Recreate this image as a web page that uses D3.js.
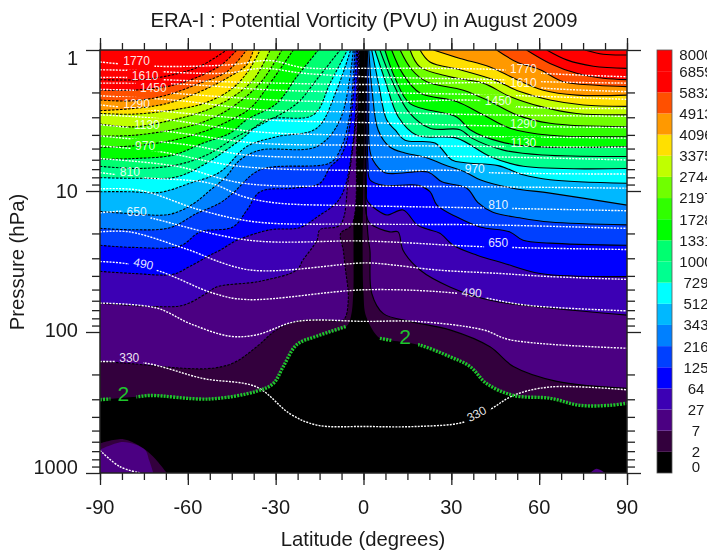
<!DOCTYPE html>
<html>
<head>
<meta charset="utf-8">
<script src="https://cdn.jsdelivr.net/npm/d3@7"></script>
<style>
  html, body { margin: 0; padding: 0; background: #fff; overflow: hidden; }
  svg { display: block; filter: blur(0.5px); font-family: "Liberation Sans", Arial, sans-serif; }
</style>
</head>
<body>
<svg id="chart" width="707" height="552"></svg>
<script>
// colour bar levels, bottom to top, and the colour of the band above each one
const levels = [0, 2, 7, 27, 64, 125, 216, 343, 512, 729, 1000, 1331, 1728, 2197, 2744, 3375, 4096, 4913, 5832, 6859, 8000];
const bandColors = ["#000000", "#33003d", "#4b0082", "#3c00b4", "#0000ff", "#0040ff", "#0080ff", "#00b8ff", "#00ffff", "#00ff90",
                    "#00ff70", "#00ff00", "#30ff00", "#70ff00", "#c0ff00", "#ffe000", "#ff9900", "#ff5000", "#ff0000", "#ff0000"];

const latTicks = [-90, -60, -30, 0, 30, 60, 90];
const pressureTicks = [1, 10, 100, 1000];

// PV contours as [latitude, log10(pressure in hPa)]
// southern hemisphere runs from the -90 edge up to the top of the plot
const south2 = [[-90,2.48],[-77.5,2.46],[-72.9,2.45],[-52.4,2.475],[-36.5,2.42],[-30.8,2.365],[-27.4,2.245],[-22.8,2.09],[-16,2.03],[-5.8,1.96],[-4.3,1.89],[-3.5,1.725],[-3.4,1.42],[-3.4,.875],[-2,.3],[-1.5,0]];
const south7 = [[-90,2.21],[-82,2.22],[-53.6,2.26],[-44.5,2.22],[-36.5,2.105],[-29.7,1.985],[-22.8,1.925],[-13.7,1.915],[-6.9,1.915],[-5.2,1.77],[-6.3,1.535],[-6.9,1.42],[-7.8,1.30],[-4,1.24],[-2.3,.64],[-1.3,0]];
const south27 = [[-90,1.795],[-70.6,1.82],[-61.5,1.81],[-53.6,1.725],[-50.1,1.68],[-35.3,1.64],[-22.8,1.56],[-20.7,1.49],[-15.9,1.35],[-14.9,1.275],[-8,1.24],[-5.2,.92],[-2.7,.52],[-1.6,0]];
const south64 = [[-90,1.57],[-78.6,1.585],[-65,1.59],[-59.3,1.535],[-52.4,1.455],[-49,1.42],[-43.2,1.35],[-31.9,1.275],[-21.7,1.26],[-15.9,1.185],[-8,1.05],[-3.5,.64],[-2,0]];
const south125 = [[-90,1.385],[-78.6,1.40],[-62.7,1.39],[-55.8,1.29],[-44.6,1.255],[-39.8,1.135],[-35.3,1.005],[-24.1,.98],[-14.9,.945],[-11.4,.83],[-8,.76],[-5.2,.6],[-2.3,0]];
const south216 = [[-90,1.265],[-78.6,1.275],[-66.1,1.26],[-57,1.16],[-49,1.085],[-44.6,1.015],[-35.3,.85],[-11.4,.80],[-8,.71],[-5,.5],[-2.9,0]];
const south343 = [[-90,1.145],[-79.7,1.16],[-66.1,1.165],[-58.1,1.09],[-52.4,.995],[-47,.9],[-42.2,.78],[-35.3,.71],[-16,.685],[-8,.495],[-3.5,0]];
const south512 = [[-90,1.005],[-79.7,1.005],[-69.5,1.01],[-59.3,.945],[-49,.865],[-39.9,.685],[-29.7,.615],[-16,.555],[-9.2,.285],[-4.4,0]];
const south729 = [[-90,.905],[-76.3,.91],[-63.8,.90],[-54.7,.815],[-42.2,.64],[-33.1,.495],[-17.1,.46],[-11.4,.235],[-5.5,0]];
const south1000 = [[-90,.825],[-76.3,.84],[-63.8,.815],[-53.6,.745],[-43.3,.615],[-34.2,.52],[-22.8,.38],[-16,.21],[-8,0]];
const south1331 = [[-90,.775],[-78.6,.77],[-65,.745],[-54.7,.66],[-45.6,.59],[-39.9,.495],[-29.7,.38],[-22.8,.19],[-15.4,0]];
const south1728 = [[-90,.69],[-78.6,.68],[-65,.64],[-54.7,.58],[-46.7,.51],[-38.8,.415],[-31.9,.235],[-24,0]];
const south2197 = [[-90,.61],[-78.6,.605],[-65,.565],[-54.7,.51],[-45.6,.415],[-35.3,.235],[-27.9,0]];
const south2744 = [[-90,.525],[-78.6,.545],[-65,.495],[-54.7,.435],[-45.6,.345],[-37.6,.21],[-31.9,0]];
const south3375 = [[-90,.45],[-78.6,.455],[-65,.425],[-54.7,.38],[-45.6,.285],[-39.9,.165],[-35.3,0]];
const south4096 = [[-90,.43],[-78.6,.415],[-67.2,.38],[-55.8,.295],[-46.7,.2],[-39.9,.105],[-37.6,0]];
const south4913 = [[-90,.355],[-78.6,.36],[-67.2,.32],[-55.8,.235],[-46.7,.155],[-39.9,0]];
const south5832 = [[-90,.285],[-78.6,.285],[-65,.25],[-54.7,.175],[-47.9,.095],[-43.3,0]];
const south6859 = [[-90,.21],[-76.3,.21],[-65,.175],[-55.8,.115],[-46.7,0]];

// northern hemisphere runs from the top of the plot out to the +90 edge
const north2 = [[.2,0],[.2,.64],[-.3,1.42],[0,1.725],[.9,1.89],[5.6,2.045],[9.6,2.06],[18.7,2.09],[29.5,2.175],[36.4,2.245],[42,2.365],[51.2,2.45],[63.7,2.47],[73.9,2.52],[84.2,2.52],[90,2.505]];
const north7 = [[.4,0],[.5,.64],[.9,1.11],[1.7,1.35],[2.2,1.42],[2.8,1.725],[6.8,1.87],[15.9,1.925],[29.5,1.985],[43.2,2.105],[51.2,2.245],[66,2.35],[90,2.40]];
const north27 = [[.6,0],[.7,.64],[.9,1.16],[2.2,1.23],[9,1.29],[11.8,1.29],[13.5,1.42],[19.3,1.56],[29.5,1.68],[43.2,1.775],[63.7,1.83],[90,1.88]];
const north64 = [[.7,0],[.9,.64],[1,1.0],[1.2,1.065],[4.6,1.135],[8,1.17],[13.5,1.135],[18.3,1.24],[21.7,1.27],[26.1,1.30],[30.6,1.385],[38.8,1.455],[47.6,1.51],[60.3,1.585],[90,1.607]];
const north125 = [[1,0],[1.2,.40],[1.5,.80],[2.2,.92],[6.7,.96],[18.6,.96],[22.7,1.005],[25.1,1.10],[31.9,1.185],[39.8,1.255],[50,1.29],[54.5,1.35],[63.7,1.37],[90,1.385]];
const north216 = [[1.3,0],[1.8,.3],[2,.69],[3.2,.78],[7.3,.87],[22,.865],[26.8,.935],[35.3,.98],[39,1.08],[44.2,1.15],[53.4,1.19],[63.7,1.22],[90,1.24]];
const north343 = [[1.8,0],[3,.3],[5,.567],[9,.688],[14.2,.73],[21,.76],[27.8,.815],[34.7,.865],[39.8,.92],[51,.98],[63.7,1.015],[90,1.10]];
const north512 = [[2.8,0],[5.1,.235],[7.9,.495],[10.8,.567],[14.2,.64],[24.4,.66],[30.2,.78],[34.7,.80],[46,.82],[54.5,.885],[63.7,.92],[90,.945]];
const north729 = [[3.9,0],[7.3,.21],[11.9,.475],[18.2,.605],[31.8,.625],[43.2,.755],[54.6,.825],[90,.84]];
const north1000 = [[5.6,0],[9.6,.21],[15.3,.435],[22.7,.555],[33,.565],[37,.625],[47.8,.71],[61.4,.745],[90,.755]];
const north1331 = [[7.3,0],[10.8,.20],[15.9,.38],[31.8,.475],[36.4,.565],[46.6,.65],[58,.685],[90,.685]];
const north1728 = [[9.6,0],[13.6,.175],[19.3,.305],[31.8,.365],[40.9,.46],[50,.555],[63.7,.605],[90,.615]];
const north2197 = [[12.5,0],[16.5,.14],[21.6,.225],[34.1,.285],[43.2,.365],[52.3,.46],[63.7,.52],[90,.545]];
const north2744 = [[15.9,0],[19.3,.12],[29.5,.19],[40.9,.235],[50,.33],[60.3,.40],[72.8,.45],[90,.46]];
const north3375 = [[19.3,0],[22.7,.085],[33,.14],[44.3,.21],[53.4,.295],[63.7,.355],[75.1,.39],[90,.40]];
const north4096 = [[23.9,0],[33,.06],[43.2,.12],[52.3,.21],[61.4,.285],[72.8,.32],[90,.32]];
const north4913 = [[45.5,0],[52.3,.085],[60.3,.14],[68.2,.225],[79.6,.25],[90,.26]];
const north5832 = [[55.7,0],[63.7,.095],[72.8,.165],[81.9,.20],[90,.21]];
const north6859 = [[62.6,0],[69.4,.07],[78.5,.115],[90,.13]];
const north8000 = [[75.6,0],[81.9,.03],[90,.035]];

// closed pockets at the ground
const islandSouth2 = [[-90,2.79],[-82,2.76],[-76.3,2.81],[-71.8,2.885],[-67.2,3]];
const islandSouth7 = [[-90,2.835],[-82,2.78],[-74.7,2.835],[-73.2,2.91],[-71.8,3]];
const islandNorth7 = [[77.4,3],[79.6,2.97],[82.5,3]];

// isentropes (potential temperature, K)
const theta250 = [[-90,2.84],[-83.2,2.955],[-76.3,3]];
const theta330 = [[-90,2.21],[-74.7,2.22],[-54.7,2.33],[-36.5,2.39],[-25.1,2.58],[-16,2.66],[1,2.67],[18.2,2.67],[34.1,2.64],[43.2,2.55],[51.2,2.45],[63.7,2.39],[90,2.41]];
const theta410 = [[-90,1.795],[-70.6,1.83],[-59.3,1.94],[-45.6,2.03],[-36.5,2.02],[-22.8,1.925],[1,1.925],[18.2,1.925],[40.9,1.985],[50,2.055],[90,2.115]];
const theta490 = [[-90,1.50],[-81,1.515],[-69.5,1.57],[-51.3,1.725],[-39.9,1.77],[1,1.70],[31.8,1.725],[42,1.76],[55.7,1.81],[90,1.85]];
const theta570 = [[-90,1.29],[-79.8,1.29],[-61.5,1.405],[-59.3,1.42],[-38.8,1.56],[1,1.51],[10.2,1.525],[25,1.56],[46.6,1.585],[63.7,1.607],[90,1.627]];
const theta650 = [[-90,1.155],[-80.9,1.145],[-71.8,1.195],[-38.8,1.35],[1,1.355],[40.9,1.395],[90,1.415]];
const theta730 = [[-90,.985],[-76.3,.995],[-55.8,1.135],[-36.5,1.22],[1,1.235],[40.9,1.24],[90,1.265]];
const theta810 = [[-90,.87],[-75.2,.905],[-52.4,.945],[-41,1.04],[-29.7,1.085],[1,1.105],[40.9,1.12],[90,1.14]];
const theta890 = [[-90,.77],[-63.8,.825],[-41,.945],[1,.965],[40.9,.97],[90,.98]];
const theta970 = [[-90,.68],[-70,.72],[-42.2,.825],[1,.855],[33,.855],[43.2,.87],[90,.88]];
const theta1050 = [[-90,.61],[-59.3,.675],[-39.9,.745],[1,.76],[34.1,.755],[90,.78]];
const theta1130 = [[-90,.53],[-66.1,.58],[-36.5,.66],[1,.675],[48.9,.685],[90,.69]];
const theta1210 = [[-90,.46],[-70.6,.485],[-36.5,.58],[1,.605],[47.8,.615],[90,.625]];
const theta1290 = [[-90,.39],[-72.9,.425],[-34.2,.495],[1,.515],[47.8,.54],[90,.55]];
const theta1370 = [[-90,.325],[-65,.355],[-34.2,.425],[1,.44],[43.2,.46],[90,.47]];
const theta1450 = [[-90,.28],[-78.6,.285],[-66.1,.305],[-29.7,.355],[1,.37],[40.9,.36],[51.2,.40],[90,.415]];
const theta1530 = [[-90,.235],[-65,.24],[-29.7,.285],[1,.30],[46.6,.32],[90,.35]];
const theta1610 = [[-90,.195],[-80.9,.195],[-68.9,.21],[-29.7,.235],[1,.245],[47.8,.235],[61.4,.27],[90,.295]];
const theta1690 = [[-90,.14],[-78.6,.145],[-47.9,.165],[-34.2,.13],[-20.5,.165],[1,.19],[45.5,.21],[61.4,.225],[90,.235]];
const theta1770 = [[-90,.085],[-71.8,.115],[-45.6,.105],[-31.9,.075],[-20.5,.125],[1,.13],[23.9,.13],[46.6,.14],[60.8,.165],[90,.19]];

// contour labels: text, latitude, log10(pressure), tilt
const thetaLabels = [
  ["1770",-77.5,.075,0],["1610",-74.6,.185,0],["1450",-71.8,.27,0],["1290",-77.5,.38,0],["1130",-74,.53,0],
  ["970",-74.6,.675,0],["810",-79.8,.86,0],["650",-77.5,1.145,0],["490",-75.2,1.515,12],["330",-80,2.18,0],
  ["1770",54.6,.135,0],["1610",54.6,.235,0],["1450",46,.36,0],["1290",54.6,.52,0],["1130",54.6,.66,0],
  ["970",38,.84,0],["810",46,1.10,0],["650",46,1.37,0],["490",37,1.72,4],["330",38.6,2.58,-28]];
const pvLabels = [["2",-82,2.435,0],["2",14.2,2.03,0]];

// the green 2 PVU line is only drawn below the tropopause
const green2South = south2.slice(0, 10);
const green2North = north2.slice(5);

const southContours = [south2, south7, south27, south64, south125, south216, south343, south512, south729, south1000, south1331, south1728, south2197, south2744, south3375, south4096, south4913, south5832, south6859];
const northContours = [north2, north7, north27, north64, north125, north216, north343, north512, north729, north1000, north1331, north1728, north2197, north2744, north3375, north4096, north4913, north5832, north6859, north8000];
const thetaLines = [theta250, theta330, theta410, theta490, theta570, theta650, theta730, theta810, theta890, theta970, theta1050, theta1130, theta1210, theta1290, theta1370, theta1450, theta1530, theta1610, theta1690, theta1770];

const svg = d3.select("#chart");
const x = d3.scaleLinear().domain([-90, 90]).range([100, 627]);
const y = d3.scaleLog().domain([1, 1000]).range([50, 473]);
const py = logP => y(Math.pow(10, logP));

const line = d3.line()
  .x(d => x(d[0]))
  .y(d => py(d[1]))
  .curve(d3.curveCatmullRom.alpha(0.5));

const defs = svg.append("defs");
defs.append("clipPath").attr("id", "plotClip").append("rect")
  .attr("x", x(-90)).attr("y", y(1)).attr("width", x(90) - x(-90)).attr("height", y(1000) - y(1));

const plot = svg.append("g").attr("clip-path", "url(#plotClip)");
plot.append("rect")
  .attr("x", x(-90)).attr("y", y(1)).attr("width", x(90) - x(-90)).attr("height", y(1000) - y(1))
  .attr("fill", bandColors[0]);

// painter's order: each level's polygon covers everything above its contour
const fillSouth = (pts, color) => plot.append("path")
  .attr("d", line(pts) + "L" + x(-90) + "," + y(1) + "Z").attr("fill", color);
const fillNorth = (pts, color) => plot.append("path")
  .attr("d", line(pts) + "L" + x(90) + "," + y(1) + "Z").attr("fill", color);

southContours.forEach((pts, i) => fillSouth(pts, bandColors[i + 1]));
northContours.forEach((pts, i) => fillNorth(pts, bandColors[Math.min(i + 1, bandColors.length - 1)]));

plot.append("path").attr("d", line(islandSouth2) + "L" + x(-90) + "," + y(1000) + "Z").attr("fill", bandColors[1]);
plot.append("path").attr("d", line(islandSouth7) + "L" + x(-90) + "," + y(1000) + "Z").attr("fill", bandColors[2]);
plot.append("path").attr("d", line(islandNorth7) + "Z").attr("fill", bandColors[2]);

// negative PV is dashed in the south
plot.selectAll("path.south").data(southContours.slice(1)).enter().append("path")
  .attr("class", "south").attr("d", line)
  .attr("fill", "none").attr("stroke", "#000").attr("stroke-width", 1.1).attr("stroke-dasharray", "2.6,1.4");
plot.selectAll("path.north").data(northContours.slice(1)).enter().append("path")
  .attr("class", "north").attr("d", line)
  .attr("fill", "none").attr("stroke", "#000").attr("stroke-width", 1.1);

// labels punch holes in their lines through a mask
const mask = defs.append("mask").attr("id", "labelGaps").attr("maskUnits", "userSpaceOnUse")
  .attr("x", 0).attr("y", 0).attr("width", 707).attr("height", 552);
mask.append("rect").attr("width", 707).attr("height", 552).attr("fill", "#fff");
const gap = (d, w, h) => mask.append("rect")
  .attr("x", -w / 2).attr("y", -h / 2).attr("width", w).attr("height", h).attr("fill", "#000")
  .attr("transform", "translate(" + x(d[1]) + "," + py(d[2]) + ") rotate(" + d[3] + ")");
thetaLabels.forEach(d => gap(d, d[0].length * 7.4 + 6, 13));
pvLabels.forEach(d => gap(d, 26, 22));

const masked = plot.append("g").attr("mask", "url(#labelGaps)");
masked.selectAll("path.theta").data(thetaLines).enter().append("path")
  .attr("class", "theta").attr("d", line)
  .attr("fill", "none").attr("stroke", "#fff").attr("stroke-width", 1.4).attr("stroke-dasharray", "2,1.2");
masked.selectAll("path.green").data([green2South, green2North]).enter().append("path")
  .attr("class", "green").attr("d", line)
  .attr("fill", "none").attr("stroke", "#1fc52d").attr("stroke-width", 3.4).attr("stroke-dasharray", "2,1.2");

const labelG = svg.append("g");
labelG.selectAll("text.theta").data(thetaLabels).enter().append("text")
  .attr("class", "theta")
  .attr("transform", d => "translate(" + x(d[1]) + "," + py(d[2]) + ") rotate(" + d[3] + ")")
  .attr("text-anchor", "middle").attr("dy", "0.36em")
  .attr("fill", "#fff").attr("fill-opacity", 0.9).attr("font-size", 12).text(d => d[0]);
labelG.selectAll("text.pv").data(pvLabels).enter().append("text")
  .attr("class", "pv")
  .attr("transform", d => "translate(" + x(d[1]) + "," + py(d[2]) + ")")
  .attr("text-anchor", "middle").attr("dy", "0.36em")
  .attr("fill", "#1fc52d").attr("font-size", 21).text(d => d[0]);

// axes
const latMinor = d3.range(-90, 90.1, 7.5);
const pressureMinor = [];
pressureTicks.slice(0, 3).forEach(p => d3.range(2, 10).forEach(m => pressureMinor.push(p * m)));

const styleAxis = g => {
  g.select(".domain").remove();
  g.selectAll("line").attr("stroke", "#222").attr("stroke-width", 1.3);
  g.selectAll("text").remove();
};
const hAxis = (make, yPos) => {
  svg.append("g").attr("transform", "translate(0," + yPos + ")")
    .call(make(x).tickValues(latMinor).tickSize(7)).call(styleAxis);
  svg.append("g").attr("transform", "translate(0," + yPos + ")")
    .call(make(x).tickValues(latTicks).tickSize(12)).call(styleAxis);
};
const vAxis = (make, xPos) => {
  svg.append("g").attr("transform", "translate(" + xPos + ",0)")
    .call(make(y).tickValues(pressureMinor).tickSize(8)).call(styleAxis);
  svg.append("g").attr("transform", "translate(" + xPos + ",0)")
    .call(make(y).tickValues(pressureTicks).tickSize(14)).call(styleAxis);
};
hAxis(d3.axisTop, y(1));
hAxis(d3.axisBottom, y(1000));
vAxis(d3.axisLeft, x(-90));
vAxis(d3.axisRight, x(90));

svg.append("rect")
  .attr("x", x(-90)).attr("y", y(1)).attr("width", x(90) - x(-90)).attr("height", y(1000) - y(1))
  .attr("fill", "none").attr("stroke", "#222").attr("stroke-width", 1.5);

const textColor = "#1a1a1a";
svg.selectAll("text.lat").data(latTicks).enter().append("text")
  .attr("class", "lat").attr("x", d => x(d)).attr("y", 514)
  .attr("text-anchor", "middle").attr("font-size", 20).attr("fill", textColor).text(d => d);

// the outer decades are pulled inward so the labels stay beside the frame
const pressureLabelY = p => p === 1 ? y(p) + 8 : p === 100 ? y(p) - 2 : p === 1000 ? y(p) - 6 : y(p);
svg.selectAll("text.p").data(pressureTicks).enter().append("text")
  .attr("class", "p").attr("x", 78).attr("y", d => pressureLabelY(d)).attr("dy", "0.36em")
  .attr("text-anchor", "end").attr("font-size", 20).attr("fill", textColor).text(d => d);

svg.append("text").attr("x", 364).attr("y", 27).attr("text-anchor", "middle")
  .attr("font-size", 20.3).attr("fill", textColor)
  .text("ERA-I : Potential Vorticity (PVU) in August 2009");
svg.append("text").attr("x", 363).attr("y", 546).attr("text-anchor", "middle")
  .attr("font-size", 20.3).attr("fill", textColor).text("Latitude (degrees)");
svg.append("text").attr("transform", "translate(24,262) rotate(-90)").attr("text-anchor", "middle")
  .attr("font-size", 20.3).attr("fill", textColor).text("Pressure (hPa)");

// colour bar
const barY = d3.scalePoint().domain(levels).range([473, 50]);
svg.selectAll("rect.band").data(bandColors).enter().append("rect")
  .attr("class", "band").attr("x", 657).attr("width", 15)
  .attr("y", (d, i) => barY(levels[i + 1]))
  .attr("height", (d, i) => barY(levels[i]) - barY(levels[i + 1]))
  .attr("fill", d => d);
svg.append("rect").attr("x", 657).attr("y", 50).attr("width", 15).attr("height", 423)
  .attr("fill", "none").attr("stroke", "#555").attr("stroke-width", 0.8);

const barLabelY = v => v === 8000 ? barY(v) + 5 : v === 0 ? barY(v) - 6 : barY(v);
svg.selectAll("text.bar").data(levels).enter().append("text")
  .attr("class", "bar").attr("x", 696).attr("y", d => barLabelY(d)).attr("dy", "0.36em")
  .attr("text-anchor", "middle").attr("font-size", 15).attr("fill", textColor).text(d => d);
</script>
</body>
</html>
